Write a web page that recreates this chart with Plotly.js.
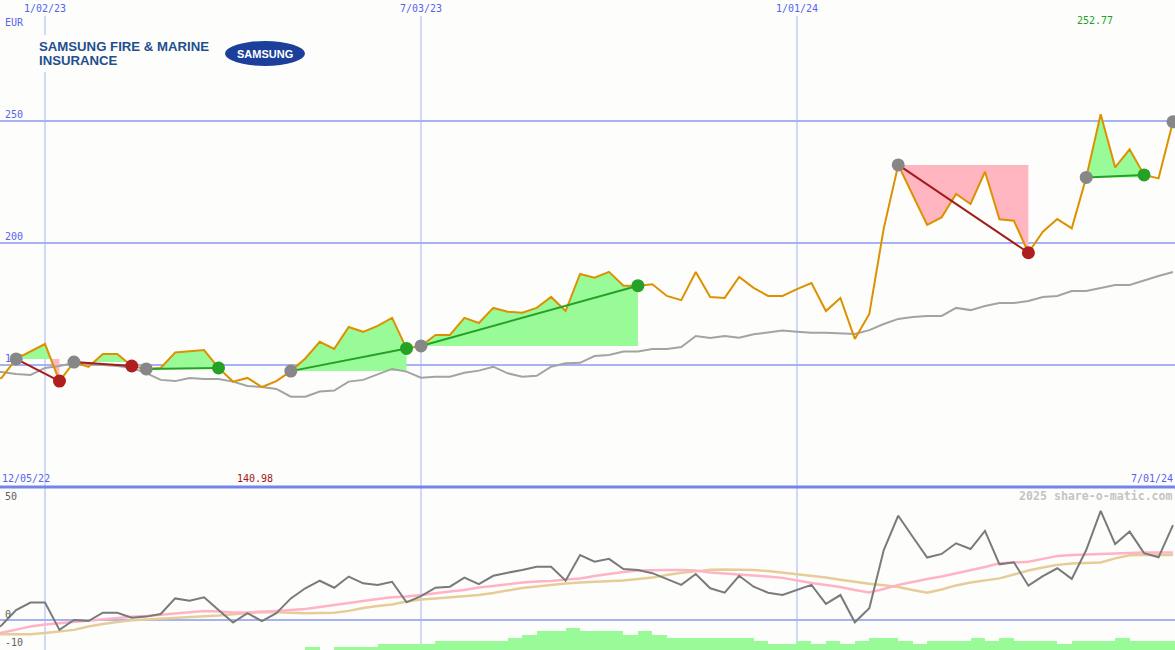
<!DOCTYPE html>
<html>
<head>
<meta charset="utf-8">
<script src="https://cdn.plot.ly/plotly-3.0.1.min.js"></script>
<style>html,body{margin:0;padding:0;background:#fdfefb;}</style>
</head>
<body>
<div id="chart" style="width:1175px;height:650px"></div>
<script>
// ---- data (weekly) ----
const dates = ['2022-12-05','2022-12-12','2022-12-19','2022-12-26','2023-01-02','2023-01-09','2023-01-16','2023-01-23','2023-01-30','2023-02-06','2023-02-13','2023-02-20','2023-02-27','2023-03-06','2023-03-13','2023-03-20','2023-03-27','2023-04-03','2023-04-10','2023-04-17','2023-04-24','2023-05-01','2023-05-08','2023-05-15','2023-05-22','2023-05-29','2023-06-05','2023-06-12','2023-06-19','2023-06-26','2023-07-03','2023-07-10','2023-07-17','2023-07-24','2023-07-31','2023-08-07','2023-08-14','2023-08-21','2023-08-28','2023-09-04','2023-09-11','2023-09-18','2023-09-25','2023-10-02','2023-10-09','2023-10-16','2023-10-23','2023-10-30','2023-11-06','2023-11-13','2023-11-20','2023-11-27','2023-12-04','2023-12-11','2023-12-18','2023-12-25','2024-01-01','2024-01-08','2024-01-15','2024-01-22','2024-01-29','2024-02-05','2024-02-12','2024-02-19','2024-02-26','2024-03-04','2024-03-11','2024-03-18','2024-03-25','2024-04-01','2024-04-08','2024-04-15','2024-04-22','2024-04-29','2024-05-06','2024-05-13','2024-05-20','2024-05-27','2024-06-03','2024-06-10','2024-06-17','2024-06-24','2024-07-01'];

const price = [143.5,144.7,152.5,155.5,158.6,143.4,151.2,149.2,154.5,154.5,149.6,148.4,148.8,155.1,155.5,156.1,148.8,143.2,144.7,140.98,143.4,147.5,152.7,159.5,156.6,165.6,163.6,166.0,169.3,156.8,157.8,162.3,162.3,169.3,167.2,173.4,171.8,171.4,173.4,177.9,172.1,187.3,185.8,188.2,182.5,182.5,183.1,178.3,176.6,188.1,177.9,177.5,186.1,181.6,178.3,178.3,181.1,183.6,172.1,177.5,160.7,170.9,206.0,232.0,219.7,207.4,210.5,220.1,216.0,229.2,209.7,209.1,196.0,204.6,209.8,206.0,226.9,252.77,231.0,238.4,227.9,226.5,249.7];

const average = [147.5,147.1,146.3,145.9,148.8,149.6,150.8,150.4,150.0,149.6,148.8,146.7,143.9,143.4,144.7,144.3,144.3,143.2,141.4,141.0,140.2,137.0,137.0,139.1,139.5,143.2,143.9,146.3,148.4,147.3,144.8,145.2,145.2,146.8,147.7,149.3,146.6,145.2,145.6,149.3,150.7,150.9,153.7,154.1,155.5,155.5,156.6,156.6,157.4,161.9,161.1,161.9,161.2,162.6,163.2,164.1,163.6,163.2,163.2,163.1,162.7,164.3,166.8,168.9,169.7,170.1,170.1,173.4,172.5,174.2,175.4,175.4,176.2,177.9,178.3,180.3,180.3,181.6,182.8,182.8,184.8,186.5,188.1];

const oscillator = [-6.0,-2.0,3.8,6.7,6.7,-3.8,0.0,-0.4,2.8,2.8,0.9,1.3,2.3,8.3,7.4,8.7,3.8,-1.0,2.6,-0.4,2.6,8.3,12.2,15.1,12.4,16.7,14.1,13.5,14.7,6.8,9.2,12.4,12.8,16.3,13.8,17.0,18.2,19.2,20.5,20.5,15.1,25.0,22.4,23.5,19.6,19.2,18.0,15.7,13.5,17.7,12.2,10.5,17.0,12.8,10.5,9.6,11.5,13.5,6.2,9.6,-0.9,4.5,26.9,40.1,32.0,24.0,25.4,29.5,27.3,34.3,21.4,22.2,13.2,16.9,19.9,15.8,26.9,42.0,29.2,34.0,25.7,24.1,36.5];

const oscFast = [-5.5,-4.9,-3.7,-2.5,-1.7,-1.2,-0.7,-0.1,0.4,0.8,1.2,1.5,2.0,2.5,3.1,3.5,3.3,2.9,2.9,3.1,3.5,3.8,4.2,5.0,5.8,6.5,7.3,8.1,8.7,9.0,9.6,10.4,11.0,11.5,12.5,13.1,13.8,14.4,14.8,15.0,15.6,16.0,16.9,17.7,18.5,19.0,19.2,19.2,19.2,19.0,18.3,17.9,17.7,17.3,16.7,16.2,15.2,14.2,13.5,12.7,11.5,10.6,11.9,13.5,14.6,15.8,16.7,17.9,19.0,20.4,21.8,22.1,22.4,23.5,24.6,25.0,25.2,25.3,25.6,25.9,26.0,26.0,26.0];

const oscSlow = [-5.5,-5.5,-5.5,-5.5,-5.0,-4.4,-3.8,-2.5,-1.5,-0.8,-0.1,0.2,0.5,0.8,1.0,1.3,1.7,2.2,2.7,3.1,3.0,2.7,2.6,2.7,2.8,3.5,4.6,5.4,6.0,7.1,7.9,8.3,8.7,9.1,9.6,10.4,11.3,12.3,12.9,13.5,14.0,14.4,14.7,15.0,15.2,15.8,16.3,17.3,18.2,18.7,19.3,19.4,19.3,19.2,18.8,18.2,17.7,17.0,16.3,15.5,14.6,13.9,13.4,12.7,11.5,10.5,11.7,13.3,14.4,15.2,16.0,17.5,19.0,20.2,21.2,21.7,21.9,22.1,23.7,24.9,25.0,25.0,25.0];

const volume = [0,0,0,0,0,0,0,0,0,0,0,0,0,0,0,0,0,0,0,0,0,0,3,0.5,3,3,3,6,6,6,6,9,9,9,9,9,12,15,19,19,22,19,19,19,15,19,15,12,12,12,12,12,12,9,6,6,9,6,9,6,9,12,12,9,6,9,9,9,12,9,12,9,9,9,6,9,9,9,12,9,9,9,9];

const entryDates = ['2022-12-19','2023-01-16','2023-02-20','2023-05-01','2023-07-03','2024-02-19','2024-05-20'];
const exitDates  = ['2023-01-09','2023-02-13','2023-03-27','2023-06-26','2023-10-16','2024-04-22','2024-06-17'];
const openDates  = ['2024-07-01'];

const gridLabels = ['2023-01-02','2023-07-03','2024-01-01'];
const gridText = ['1/02/23','7/03/23','1/01/24'];

// ---- style ----
const BG = '#fdfefb';
const GRID = '#a6b3f2';
const LBL = '#5563ee';
const MONO = 'DejaVu Sans Mono, Liberation Mono, monospace';
const W = 1175, H = 650;
const TOPD = 1 - 487 / H;
const px = v => v / W;
const py = v => 1 - v / H;

const X = dates.map(d => Date.parse(d));
const idx = d => dates.indexOf(d);

function fillPoly(i, j, e, sign) {
  const xs = [X[i]], ys = [e];
  let any = false;
  for (let k = i; k <= j; k++) {
    const v = price[k];
    if ((v - e) * sign > 0) any = true;
    xs.push(X[k]);
    ys.push(sign > 0 ? Math.max(v, e) : Math.min(v, e));
    if (k < j) {
      const a = price[k] - e, b = price[k + 1] - e;
      if (a * b < 0) {
        const t = a / (a - b);
        xs.push(X[k] + t * (X[k + 1] - X[k]));
        ys.push(e);
      }
    }
  }
  xs.push(X[j]); ys.push(e);
  return any ? {xs, ys} : null;
}

const traces = [];
// fills
entryDates.forEach((d, n) => {
  const i = idx(d), j = idx(exitDates[n]), e = price[i];
  [[1, '#98fb98'], [-1, '#ffb6c1']].forEach(([s, c]) => {
    const p = fillPoly(i, j, e, s);
    if (p) traces.push({x: p.xs, y: p.ys, xaxis: 'x', yaxis: 'y', type: 'scatter', mode: 'none',
      fill: 'toself', fillcolor: c, hoverinfo: 'skip'});
  });
});
// average line
traces.push({x: dates, y: average, xaxis: 'x', yaxis: 'y', type: 'scatter', mode: 'lines',
  line: {color: '#a3a3a3', width: 2}, hoverinfo: 'skip'});
// price line
traces.push({x: dates, y: price, xaxis: 'x', yaxis: 'y', type: 'scatter', mode: 'lines',
  line: {color: '#dc9200', width: 2}, hoverinfo: 'skip'});
// trade lines
const exitColors = [];
entryDates.forEach((d, n) => {
  const i = idx(d), j = idx(exitDates[n]);
  const gain = price[j] >= price[i];
  exitColors.push(gain ? '#25a125' : '#b01f1f');
  traces.push({x: [dates[i], dates[j]], y: [price[i], price[j]], xaxis: 'x', yaxis: 'y', type: 'scatter',
    mode: 'lines', line: {color: gain ? '#25a125' : '#a31c1c', width: 2}, hoverinfo: 'skip'});
});
// entry dots
const ent = entryDates.concat(openDates);
traces.push({x: ent, y: ent.map(d => price[idx(d)]), xaxis: 'x', yaxis: 'y', type: 'scatter', mode: 'markers',
  marker: {color: '#878787', size: 13}, hoverinfo: 'skip'});
// exit dots
traces.push({x: exitDates, y: exitDates.map(d => price[idx(d)]), xaxis: 'x', yaxis: 'y', type: 'scatter', mode: 'markers',
  marker: {color: exitColors, size: 13}, hoverinfo: 'skip'});

// lower panel
traces.push({x: dates, y: oscSlow, xaxis: 'x2', yaxis: 'y2', type: 'scatter', mode: 'lines',
  line: {color: '#e6cc98', width: 2.5}, hoverinfo: 'skip'});
traces.push({x: dates, y: oscFast, xaxis: 'x2', yaxis: 'y2', type: 'scatter', mode: 'lines',
  line: {color: '#ffb3c4', width: 2.5}, hoverinfo: 'skip'});
traces.push({x: dates, y: oscillator, xaxis: 'x2', yaxis: 'y2', type: 'scatter', mode: 'lines',
  line: {color: '#7a7a7a', width: 2}, hoverinfo: 'skip'});
traces.push({x: dates, y: volume, xaxis: 'x2', yaxis: 'y3', type: 'bar', offset: 0, width: 7 * 86400000,
  marker: {color: '#98fb98', line: {width: 0}}, hoverinfo: 'skip'});

// shapes
const shapes = [];
gridLabels.forEach(d => shapes.push({type: 'line', xref: 'x', yref: 'paper', x0: d, x1: d, y0: 0, y1: py(16),
  line: {color: GRID, width: 1}, layer: 'below'}));
shapes.push({type: 'line', xref: 'paper', yref: 'y2', x0: 0, x1: 1, y0: 0, y1: 0, line: {color: GRID, width: 2}, layer: 'below'});
shapes.push({type: 'line', xref: 'paper', yref: 'paper', x0: 0, x1: 1, y0: TOPD, y1: TOPD, line: {color: '#7384ea', width: 3}, layer: 'above'});
// logo backdrop + emblem
shapes.push({type: 'rect', xref: 'paper', yref: 'paper', x0: px(36), x1: px(310), y0: py(72), y1: py(35),
  fillcolor: BG, line: {width: 0}, layer: 'above'});
shapes.push({type: 'circle', xref: 'paper', yref: 'paper', x0: px(225), x1: px(305), y0: py(66), y1: py(41),
  fillcolor: '#1b3f9b', line: {width: 0}, layer: 'above'});

// annotations
const ann = [];
const lab = (text, x, y, xanchor, color, size, extra) => Object.assign({text, xref: 'paper', yref: 'paper',
  x: px(x), y: py(y), xanchor, yanchor: 'middle', showarrow: false,
  font: {family: MONO, size: size || 10, color: color || LBL}}, extra || {});
gridLabels.forEach((d, n) => ann.push({text: gridText[n], xref: 'x', yref: 'paper', x: d, y: py(8),
  xanchor: 'center', yanchor: 'middle', showarrow: false, font: {family: MONO, size: 10, color: LBL}}));
ann.push(lab('EUR', 3, 22, 'left'));
ann.push(lab('252.77', 1095, 20, 'center', '#22a022'));
ann.push(lab('12/05/22', 0, 478, 'left'));
ann.push(lab('140.98', 255, 478, 'center', '#a01515'));
ann.push(lab('7/01/24', 1175, 478, 'right'));
ann.push(lab('<b>2025 share-o-matic.com</b>', 1175, 496, 'right', '#c4c4c4', 11.6));
ann.push(lab('50', 3, 496, 'left', '#606060'));
ann.push(lab('0', 3, 614, 'left', '#606060'));
ann.push(lab('-10', 3, 642, 'left', '#606060'));
const LOGO = 'Liberation Sans, Arial, sans-serif';
ann.push({text: '<b>SAMSUNG FIRE & MARINE</b>', xref: 'paper', yref: 'paper', x: px(37), y: py(46), xanchor: 'left', yanchor: 'middle',
  showarrow: false, font: {family: LOGO, size: 13.2, color: '#1f4f8f'}});
ann.push({text: '<b>INSURANCE</b>', xref: 'paper', yref: 'paper', x: px(37), y: py(61), xanchor: 'left', yanchor: 'middle',
  showarrow: false, font: {family: LOGO, size: 13.2, color: '#1f4f8f'}});
ann.push({text: '<b>SAMSUNG</b>', xref: 'paper', yref: 'paper', x: px(265), y: py(53.5), xanchor: 'center', yanchor: 'middle',
  showarrow: false, font: {family: LOGO, size: 11, color: '#ffffff'}});

const layout = {
  width: W, height: H, margin: {l: 0, r: 0, t: 0, b: 0},
  paper_bgcolor: BG, plot_bgcolor: BG, showlegend: false, bargap: 0,
  xaxis: {type: 'date', range: ['2022-12-11 05:17', '2024-07-01 23:18'], domain: [0, 1], anchor: 'y',
    showticklabels: false, showgrid: false, zeroline: false, ticks: '', fixedrange: true},
  xaxis2: {type: 'date', matches: 'x', domain: [0, 1], anchor: 'y2', showticklabels: false, showgrid: false,
    zeroline: false, ticks: '', fixedrange: true},
  yaxis: {domain: [TOPD, 1], range: [100, 299.6], anchor: 'x', tickvals: [150, 200, 250], ticktext: ['150', '200', '250'],
    ticks: '', showgrid: true, gridcolor: GRID, gridwidth: 2, zeroline: false, showline: false,
    ticklabelposition: 'inside top', ticklabelstandoff: 2,
    tickfont: {family: MONO, size: 10, color: LBL}, layer: 'below traces', fixedrange: true},
  yaxis2: {domain: [0, TOPD], range: [-11.54, 51.15], anchor: 'x2', showgrid: false, showticklabels: false,
    zeroline: false, ticks: '', fixedrange: true},
  yaxis3: {overlaying: 'y2', anchor: 'x2', range: [0, 163], showgrid: false, showticklabels: false,
    zeroline: false, ticks: '', fixedrange: true},
  shapes: shapes, annotations: ann
};

Plotly.newPlot('chart', traces, layout, {displayModeBar: false, staticPlot: true});
</script>
</body>
</html>
